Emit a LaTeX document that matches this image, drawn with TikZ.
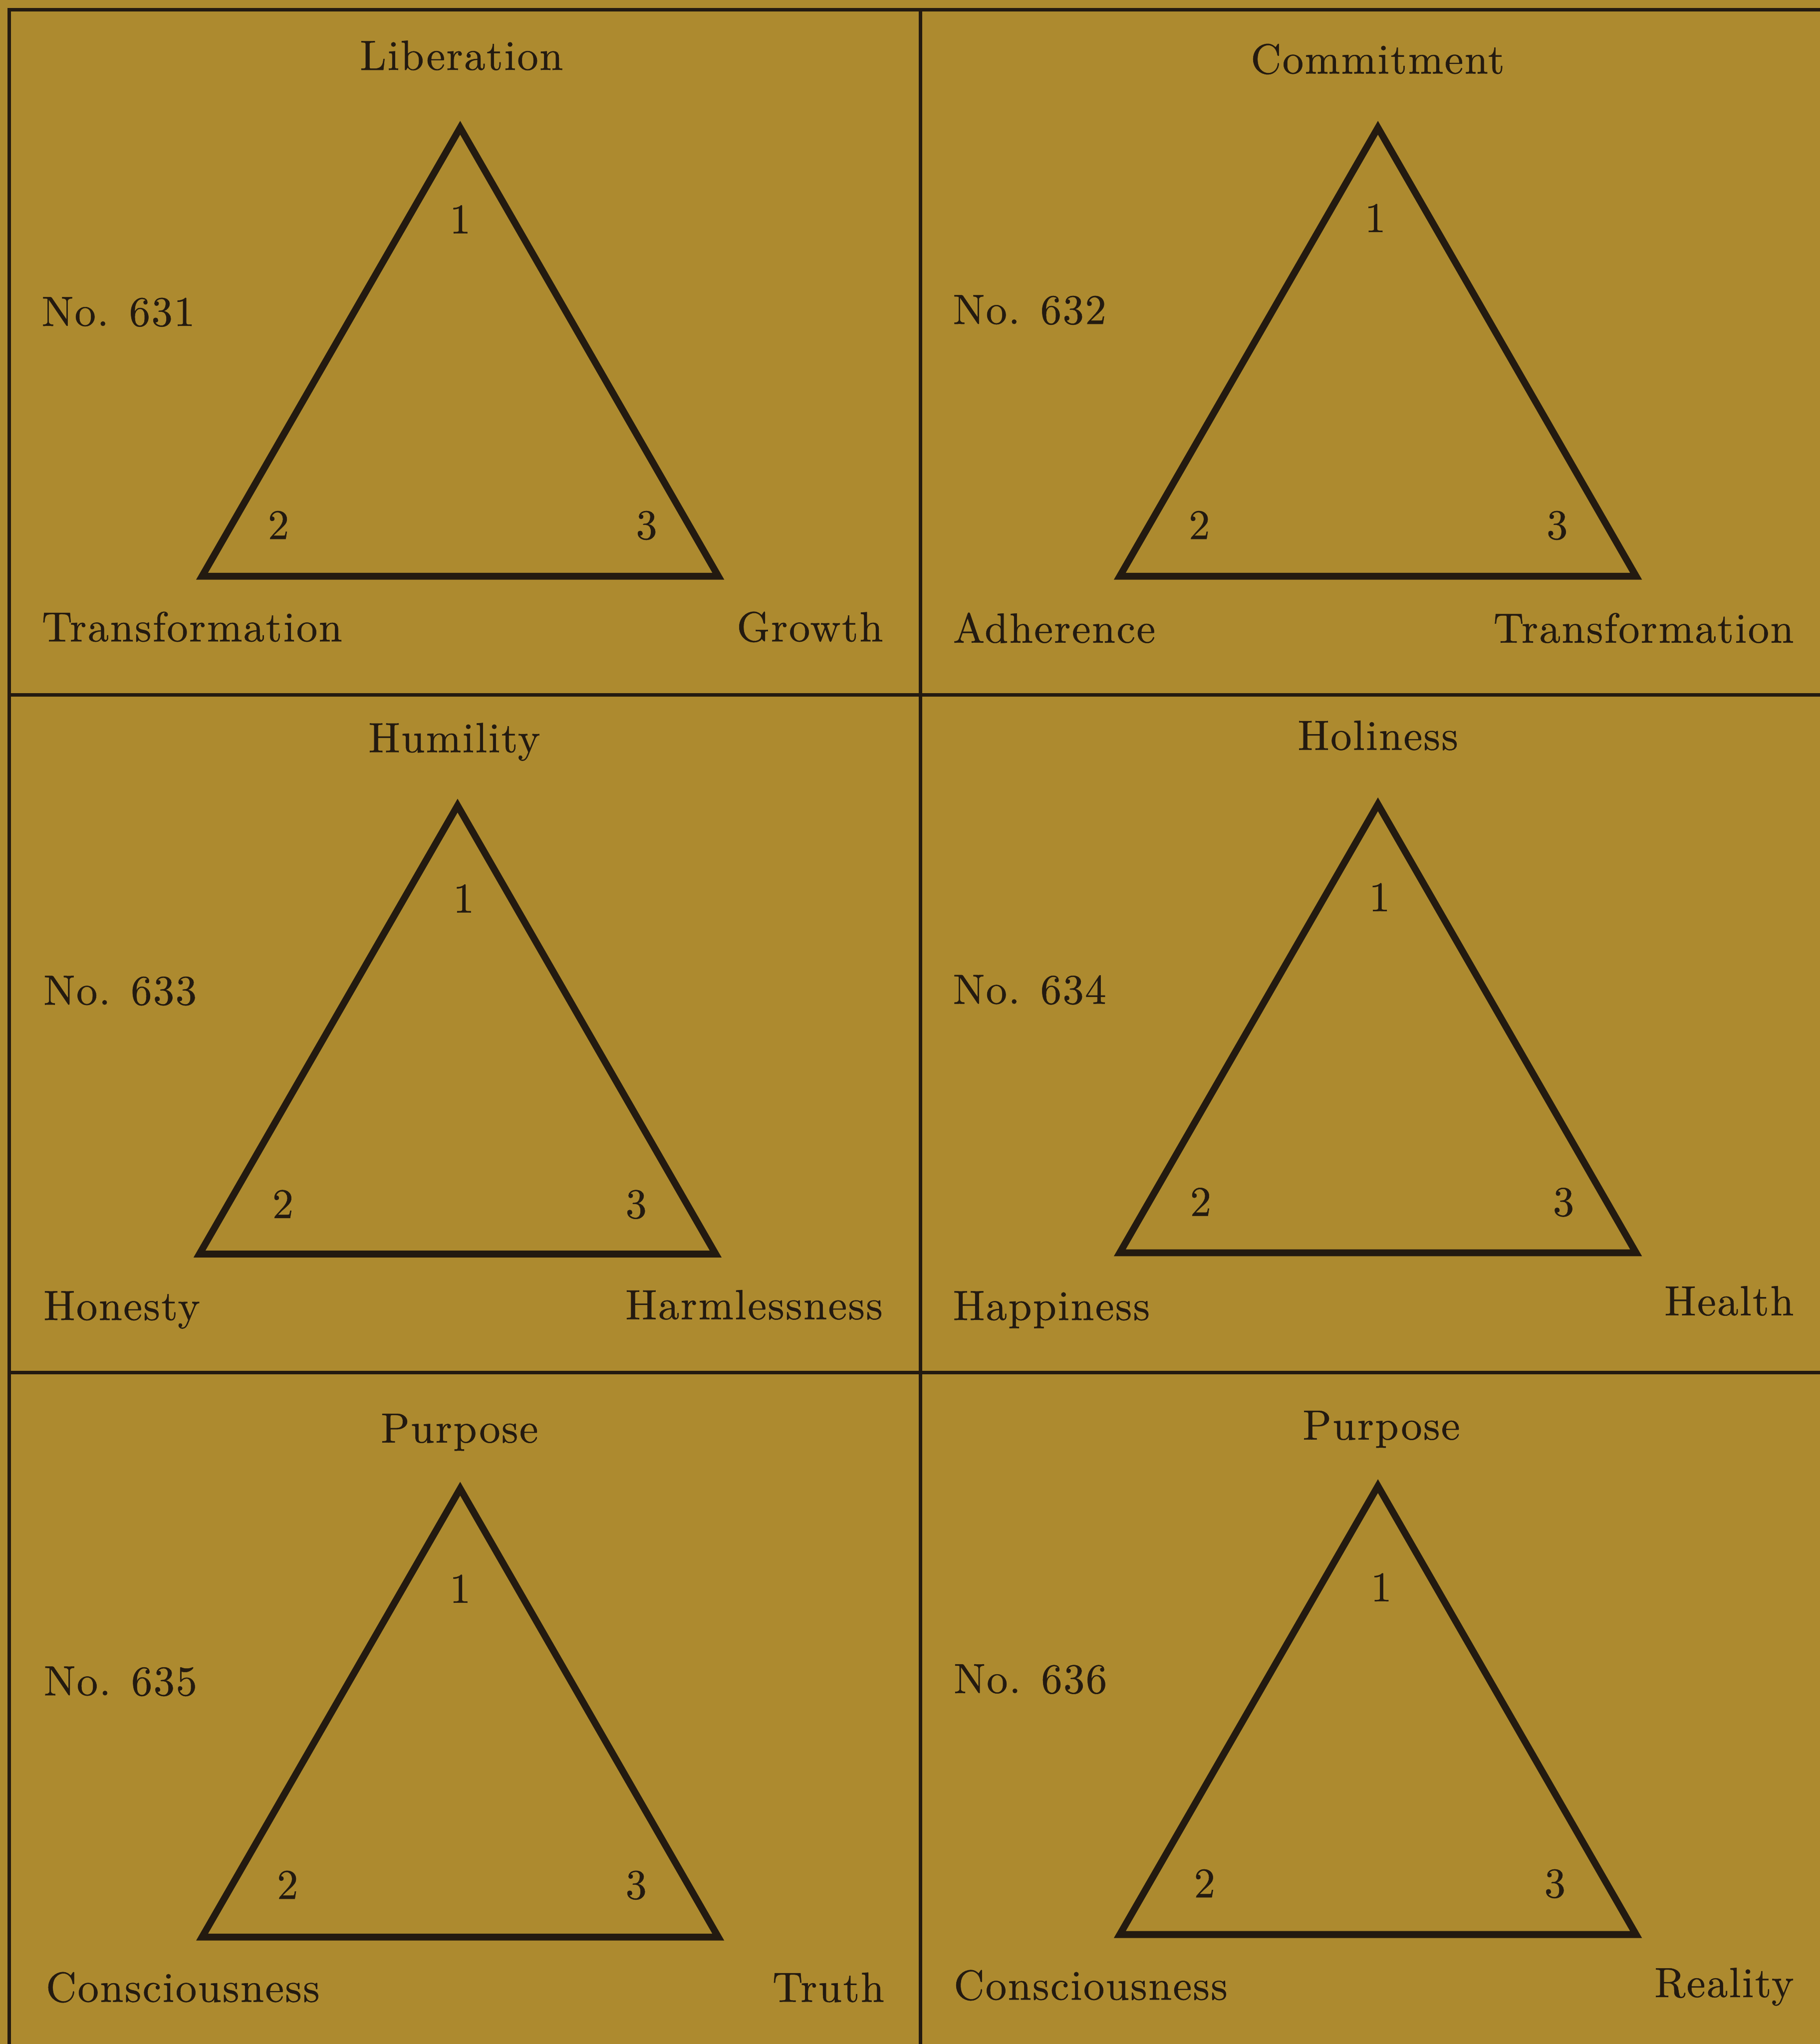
\documentclass[tikz,border=0pt]{standalone}
\usepackage{fontspec}
\usetikzlibrary{positioning}
\newfontfamily\panelfont{lmroman10-regular}[Extension=.otf, LetterSpace=3, FakeBold=0.6]
\definecolor{paperyellow}{HTML}{AD8A2F}
\definecolor{inkdark}{HTML}{231A10}

\begin{document}
\begin{tikzpicture}[
    x=0.1mm, y=-0.1mm,
    grid/.style={draw=inkdark, line width=0.75pt},
    tri/.style={draw=inkdark, line width=1.5pt, miter limit=10},
    txt/.style={inner sep=0pt, text=inkdark,
                font=\panelfont\fontsize{9.2}{11}\selectfont},
    title/.style={txt, anchor=base},
    corner/.style={txt, anchor=base},
    leftlbl/.style={txt, anchor=base west},
    rightlbl/.style={txt, anchor=base east},
]

% === Paper and frame ===
\fill[paperyellow] (0,0) rectangle (1396,1568);
\useasboundingbox (0,0) rectangle (1396,1568);
\draw[grid] (7,1568) -- (7,7.6) -- (1396,7.6);
\draw[grid] (706,7.6) -- (706,1568);
\draw[grid] (7,533) -- (1396,533);
\draw[grid] (7,1053) -- (1396,1053);

% === No. 631 ===
\coordinate (a1) at (353,98);
\coordinate (b1) at (155,442);
\coordinate (c1) at (551,442);
\draw[tri] (a1) -- (b1) -- (c1) -- cycle;
\node[title] (t1) at (354,53.6) {Liberation};
\node[corner] (n1a) at (353,179) {1};
\node[corner] (n1b) at (213.6,413.5) {2};
\node[corner] (n1c) at (496,413.5) {3};
\node[leftlbl] (no1) at (31.4,250) {No. 631};
\node[leftlbl] (l1) at (31.4,492) {Transformation};
\node[rightlbl] (r1) at (678,492) {Growth};

% === No. 632 ===
\coordinate (a2) at (1057,98);
\coordinate (b2) at (859,442);
\coordinate (c2) at (1255,442);
\draw[tri] (a2) -- (b2) -- (c2) -- cycle;
\node[title] (t2) at (1056.8,56.4) {Commitment};
\node[corner] (n2a) at (1055,178) {1};
\node[corner] (n2b) at (920,413.5) {2};
\node[corner] (n2c) at (1194.5,413.5) {3};
\node[leftlbl] (no2) at (730.4,248.5) {No. 632};
\node[leftlbl] (l2) at (730.4,493) {Adherence};
\node[rightlbl] (r2) at (1376.7,493) {Transformation};

% === No. 633 ===
\coordinate (a3) at (351,618);
\coordinate (b3) at (153,962);
\coordinate (c3) at (549,962);
\draw[tri] (a3) -- (b3) -- (c3) -- cycle;
\node[title] (t3) at (348.5,577) {Humility};
\node[corner] (n3a) at (355.7,700) {1};
\node[corner] (n3b) at (217,934.4) {2};
\node[corner] (n3c) at (488,934.4) {3};
\node[leftlbl] (no3) at (32.7,770.7) {No. 633};
\node[leftlbl] (l3) at (32.7,1012.6) {Honesty};
\node[rightlbl] (r3) at (677.8,1012) {Harmlessness};

% === No. 634 ===
\coordinate (a4) at (1057,617);
\coordinate (b4) at (859,961);
\coordinate (c4) at (1255,961);
\draw[tri] (a4) -- (b4) -- (c4) -- cycle;
\node[title] (t4) at (1057,575.2) {Holiness};
\node[corner] (n4a) at (1058.3,699) {1};
\node[corner] (n4b) at (921,932.7) {2};
\node[corner] (n4c) at (1199.4,932.7) {3};
\node[leftlbl] (no4) at (730.4,770) {No. 634};
\node[leftlbl] (l4) at (730.4,1012.6) {Happiness};
\node[rightlbl] (r4) at (1376.7,1009) {Health};

% === No. 635 ===
\coordinate (a5) at (353,1142);
\coordinate (b5) at (155,1486);
\coordinate (c5) at (551,1486);
\draw[tri] (a5) -- (b5) -- (c5) -- cycle;
\node[title] (t5) at (352.5,1106.6) {Purpose};
\node[corner] (n5a) at (353,1229.5) {1};
\node[corner] (n5b) at (220.6,1456.6) {2};
\node[corner] (n5c) at (488,1456.6) {3};
\node[leftlbl] (no5) at (33,1300.5) {No. 635};
\node[leftlbl] (l5) at (34.6,1535.6) {Consciousness};
\node[rightlbl] (r5) at (679,1535.6) {Truth};

% === No. 636 ===
\coordinate (a6) at (1057,1140);
\coordinate (b6) at (859,1484);
\coordinate (c6) at (1255,1484);
\draw[tri] (a6) -- (b6) -- (c6) -- cycle;
\node[title] (t6) at (1059.6,1104.3) {Purpose};
\node[corner] (n6a) at (1059.6,1228.4) {1};
\node[corner] (n6b) at (924,1455.5) {2};
\node[corner] (n6c) at (1192.8,1455.5) {3};
\node[leftlbl] (no6) at (731,1298.8) {No. 636};
\node[leftlbl] (l6) at (731,1534) {Consciousness};
\node[rightlbl] (r6) at (1376.7,1532) {Reality};

\end{tikzpicture}
\end{document}
